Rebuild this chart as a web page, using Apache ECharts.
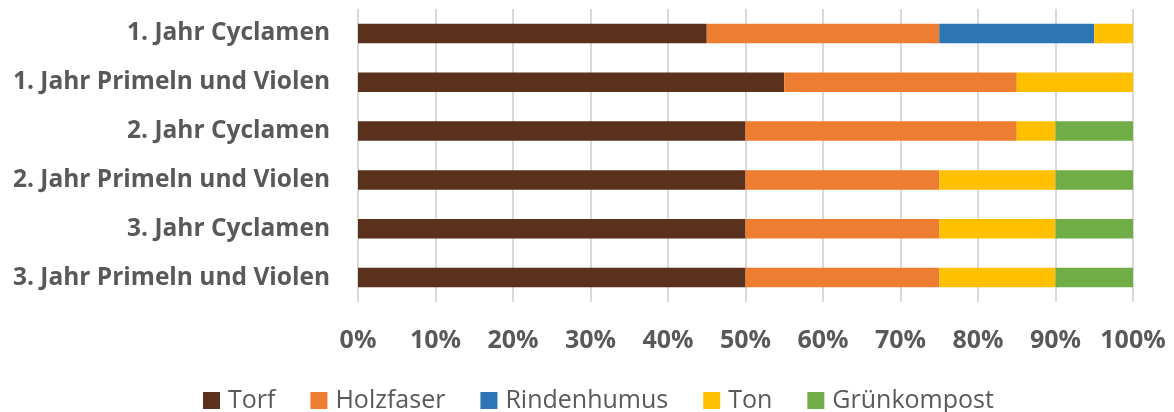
<!DOCTYPE html>
<html><head><meta charset="utf-8">
<script src="https://cdn.jsdelivr.net/npm/echarts@6/dist/echarts.min.js"></script>
<style>html,body{margin:0;padding:0;background:#fff}#c{width:1174px;height:412px}</style>
</head><body><div id="c"></div>
<script>
const categories = ["1. Jahr Cyclamen", "1. Jahr Primeln und Violen", "2. Jahr Cyclamen", "2. Jahr Primeln und Violen", "3. Jahr Cyclamen", "3. Jahr Primeln und Violen"];
const torf = [45, 55, 50, 50, 50, 50];
const holzfaser = [30, 30, 35, 25, 25, 25];
const rindenhumus = [20, 0, 0, 0, 0, 0];
const ton = [5, 15, 5, 15, 15, 15];
const gruenkompost = [0, 0, 10, 10, 10, 10];
const seriesNames = ["Torf", "Holzfaser", "Rindenhumus", "Ton", "Grünkompost"];
const colors = ["#5A311C", "#ED7D31", "#2E75B6", "#FFC000", "#70AD47"];
const data = [torf, holzfaser, rindenhumus, ton, gruenkompost];

const chart = echarts.init(document.getElementById('c'));
chart.setOption({
  animation: false,
  color: colors,
  textStyle: { fontFamily: 'Open Sans' },
  grid: { left: 358, right: 41, top: 9, bottom: 110, containLabel: false },
  legend: {
    top: 388, left: 203, padding: 0,
    itemWidth: 17, itemHeight: 17, itemGap: 35,
    icon: 'rect',
    textStyle: { color: '#595959', fontSize: 25, fontFamily: 'Open Sans', padding: [0, 0, 0, 3] },
    data: seriesNames
  },
  xAxis: {
    type: 'value', min: 0, max: 100, interval: 10,
    axisLine: { show: false }, axisTick: { show: false },
    splitLine: { lineStyle: { color: '#D9D9D9', width: 2 } },
    axisLabel: { formatter: '{value}%', color: '#595959', fontSize: 25, fontWeight: 'bold', margin: 26, fontFamily: 'Open Sans' }
  },
  yAxis: {
    type: 'category', data: categories, inverse: true,
    axisLine: { show: false }, axisTick: { show: false },
    axisLabel: { color: '#595959', fontSize: 24.5, fontWeight: 'bold', margin: 28, fontFamily: 'Open Sans' }
  },
  series: seriesNames.map((n, i) => ({
    name: n, type: 'bar', stack: 'total', barWidth: '40%',
    data: data[i]
  }))
});
</script></body></html>
